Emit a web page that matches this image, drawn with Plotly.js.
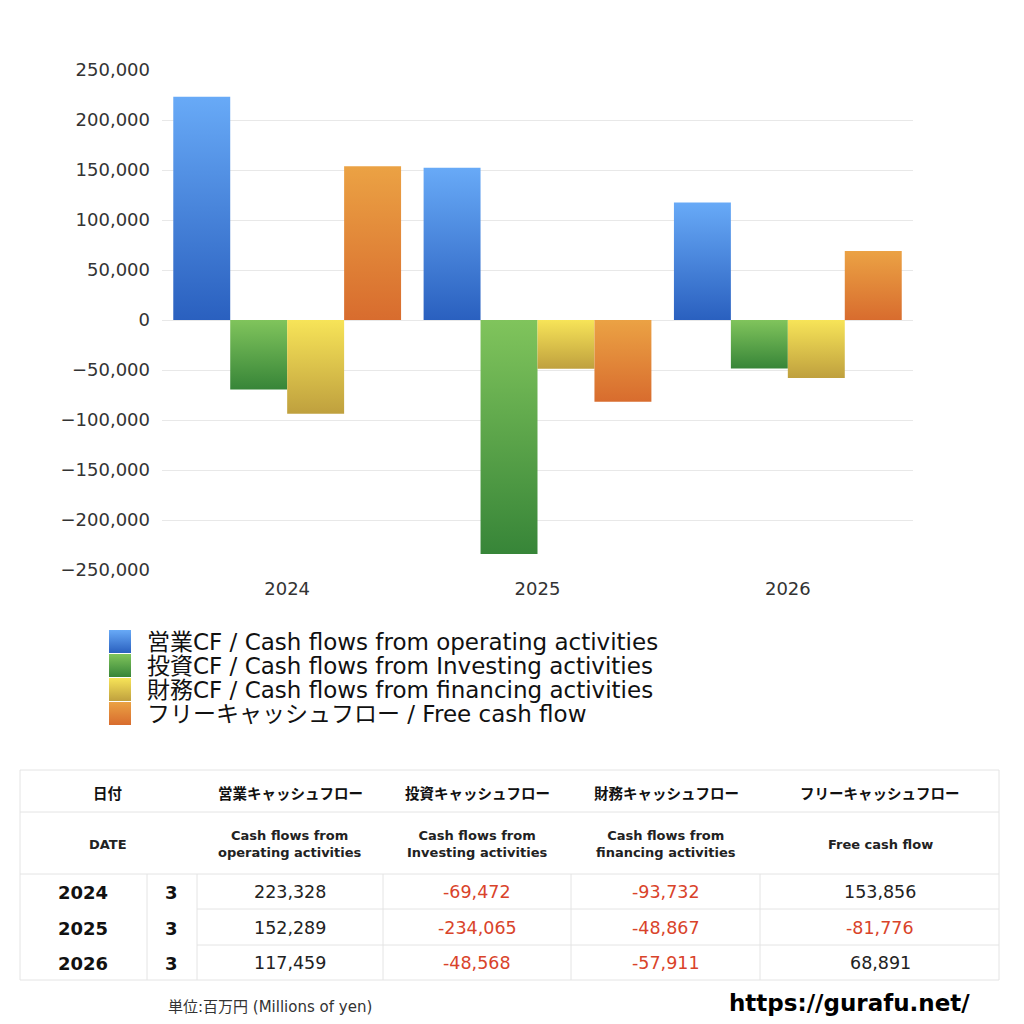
<!DOCTYPE html>
<html>
<head>
<meta charset="utf-8">
<script src="https://cdn.plot.ly/plotly-3.0.1.min.js"></script>
<style>
  body { margin: 0; background: #fff; }
  #chart { width: 1024px; height: 1024px; }
</style>
</head>
<body>
<div id="chart"></div>
<script>
//  ======== DATA ========
var years = ['2024', '2025', '2026'];
var months = ['3', '3', '3'];
var operatingCF = [223328, 152289, 117459];
var investingCF = [-69472, -234065, -48568];
var financingCF = [-93732, -48867, -57911];
var freeCF = [153856, -81776, 68891];

var seriesNames = [
  '営業CF / Cash flows from operating activities',
  '投資CF / Cash flows from Investing activities',
  '財務CF / Cash flows from financing activities',
  'フリーキャッシュフロー / Free cash flow'
];
var headerJa = ['日付', '営業キャッシュフロー', '投資キャッシュフロー', '財務キャッシュフロー', 'フリーキャッシュフロー'];
var headerEn = ['DATE', 'Cash flows from<br>operating activities', 'Cash flows from<br>Investing activities',
  'Cash flows from<br>financing activities', 'Free cash flow'];
var tickVals = [-250000, -200000, -150000, -100000, -50000, 0, 50000, 100000, 150000, 200000, 250000];

// colours: [mid, top, bottom]
var colors = [
  ['#4585dc', '#68aaf7', '#2a60bf'],
  ['#56a446', '#80c45c', '#378538'],
  ['#dcc34a', '#f7e458', '#bfa03e'],
  ['#e08838', '#eba244', '#d86c2e']
];

var FONT = '"DejaVu Sans", "Noto Sans CJK JP", sans-serif';
var JFONT = '"Noto Sans CJK JP", "DejaVu Sans", sans-serif';
function py(p) { return 1 - p / 1024; }
function px(p) { return p / 1024; }

//  ======== BARS ========
var allSeries = [operatingCF, investingCF, financingCF, freeCF];
var traces = allSeries.map(function(vals, i) {
  return {
    type: 'bar',
    x: years,
    y: vals,
    name: seriesNames[i],
    marker: {color: colors[i][0], line: {width: 0}},
    hoverinfo: 'y'
  };
});

//  ======== LEGEND + TABLE (drawn by hand) ========
var shapes = [];
var annotations = [];

// legend swatches first so their data-index is 0..3
seriesNames.forEach(function(name, i) {
  var top = 630 + i * 24;
  shapes.push({
    type: 'rect', xref: 'paper', yref: 'paper',
    x0: px(109), x1: px(131), y0: py(top), y1: py(top + 23),
    fillcolor: colors[i][0], line: {width: 0}
  });
  annotations.push({
    xref: 'paper', yref: 'paper', x: px(145), y: py(top + 12),
    xanchor: 'left', yanchor: 'middle', showarrow: false,
    text: name, font: {family: FONT, size: 23, color: '#111'}
  });
});

var lineCol = '#e4e4e4';
function hline(y, xa, xb) {
  shapes.push({type: 'line', xref: 'paper', yref: 'paper', x0: px(xa), x1: px(xb), y0: py(y), y1: py(y),
    line: {color: lineCol, width: 1}});
}
function vline(x, ya, yb) {
  shapes.push({type: 'line', xref: 'paper', yref: 'paper', x0: px(x), x1: px(x), y0: py(ya), y1: py(yb),
    line: {color: lineCol, width: 1}});
}
hline(770, 20, 999);
hline(812, 20, 999);
hline(874, 20, 999);
hline(909, 197, 999);
hline(945, 197, 999);
hline(980, 20, 999);
vline(20, 770, 980);
vline(999, 770, 980);
[147, 197, 383, 571, 760].forEach(function(x) { vline(x, 874, 980); });

var colCenters = [108, 290, 477, 666, 880];
headerJa.forEach(function(t, i) {
  annotations.push({xref: 'paper', yref: 'paper', x: px(colCenters[i]), y: py(792),
    xanchor: 'center', yanchor: 'middle', showarrow: false,
    text: '<b>' + t + '</b>', font: {family: JFONT, size: 14.5, color: '#111'}});
});
headerEn.forEach(function(t, i) {
  annotations.push({xref: 'paper', yref: 'paper', x: px(colCenters[i]), y: py(844),
    xanchor: 'center', yanchor: 'middle', showarrow: false,
    text: '<b>' + t + '</b>', font: {family: FONT, size: 13, color: '#222'}});
});

var rowY = [892, 928, 963];
years.forEach(function(yr, r) {
  annotations.push({xref: 'paper', yref: 'paper', x: px(83), y: py(rowY[r]),
    xanchor: 'center', yanchor: 'middle', showarrow: false,
    text: '<b>' + yr + '</b>', font: {family: FONT, size: 18, color: '#111'}});
  annotations.push({xref: 'paper', yref: 'paper', x: px(171), y: py(rowY[r]),
    xanchor: 'center', yanchor: 'middle', showarrow: false,
    text: '<b>' + months[r] + '</b>', font: {family: FONT, size: 18, color: '#111'}});
  allSeries.forEach(function(vals, c) {
    var v = vals[r];
    annotations.push({xref: 'paper', yref: 'paper', x: px(colCenters[c + 1]), y: py(rowY[r]),
      xanchor: 'center', yanchor: 'middle', showarrow: false,
      text: v.toLocaleString('en-US'),
      font: {family: FONT, size: 17.5, color: v < 0 ? '#d9432a' : '#222'}});
  });
});

annotations.push({xref: 'paper', yref: 'paper', x: px(166), y: py(1007),
  xanchor: 'left', yanchor: 'middle', showarrow: false,
  text: '単位:百万円 (Millions of yen)', font: {family: FONT, size: 15, color: '#333'}});
annotations.push({xref: 'paper', yref: 'paper', x: px(972), y: py(1003),
  xanchor: 'right', yanchor: 'middle', showarrow: false,
  text: '<b>https://gurafu.net/</b>', font: {family: FONT, size: 23, color: '#000'}});

var layout = {
  width: 1024,
  height: 1024,
  margin: {l: 0, r: 0, t: 0, b: 0},
  paper_bgcolor: '#fff',
  plot_bgcolor: '#fff',
  showlegend: false,
  barmode: 'group',
  bargap: 0.09,
  bargroupgap: 0,
  font: {family: FONT, color: '#333'},
  xaxis: {
    domain: [px(162), px(913)],
    type: 'category',
    showgrid: false,
    zeroline: false,
    showline: false,
    ticks: '',
    ticklabelstandoff: 6,
    tickfont: {size: 18, color: '#333'},
    anchor: 'y'
  },
  yaxis: {
    domain: [py(570), py(70)],
    range: [-250000, 250000],
    tickvals: tickVals,
    tickformat: ',',
    showgrid: true,
    gridcolor: '#e8e8e8',
    zeroline: true,
    zerolinecolor: '#e8e8e8',
    zerolinewidth: 1,
    ticks: '',
    ticklabelstandoff: 11,
    tickfont: {size: 18, color: '#333'}
  },
  shapes: shapes,
  annotations: annotations
};

Plotly.newPlot('chart', traces, layout, {displayModeBar: false, responsive: false}).then(function(gd) {
  // vertical gradients like the original bars
  var svg = gd.querySelector('.main-svg');
  var ns = 'http://www.w3.org/2000/svg';
  var defs = document.createElementNS(ns, 'defs');
  colors.forEach(function(c, i) {
    var g = document.createElementNS(ns, 'linearGradient');
    g.setAttribute('id', 'cfgrad' + i);
    g.setAttribute('x1', '0'); g.setAttribute('y1', '0');
    g.setAttribute('x2', '0'); g.setAttribute('y2', '1');
    [[0, c[1]], [1, c[2]]].forEach(function(s) {
      var st = document.createElementNS(ns, 'stop');
      st.setAttribute('offset', s[0]);
      st.setAttribute('stop-color', s[1]);
      g.appendChild(st);
    });
    defs.appendChild(g);
  });
  svg.insertBefore(defs, svg.firstChild);

  gd.querySelectorAll('.barlayer .trace').forEach(function(tr, i) {
    tr.querySelectorAll('.point path').forEach(function(p) {
      p.style.fill = 'url(#cfgrad' + i + ')';
    });
  });
  for (var i = 0; i < 4; i++) {
    var sp = gd.querySelector('.shapelayer path[data-index="' + i + '"]');
    if (sp) sp.style.fill = 'url(#cfgrad' + i + ')';
  }
});
</script>
</body>
</html>
